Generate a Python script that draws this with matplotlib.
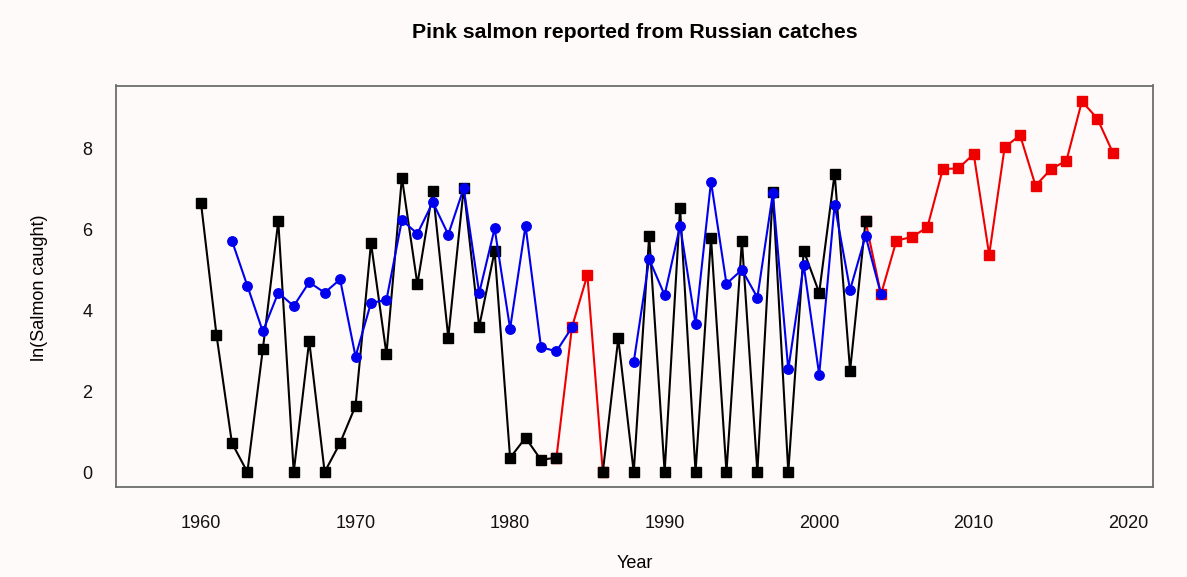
import numpy as np
import matplotlib

matplotlib.use("Agg")
import matplotlib.pyplot as plt

# ln(catch) per year, 1960-2019 (full reported series, drawn red where it stands alone)
years = np.arange(1960, 2020)
log_catch = [
    6.66, 3.40, 0.72, 0.0, 3.04, 6.21, 0.0, 3.25, 0.0, 0.72,   # 1960s
    1.64, 5.67, 2.92, 7.29, 4.65, 6.97, 3.33, 7.03, 3.60, 5.47,  # 1970s
    0.35, 0.85, 0.30, 0.36, 3.58, 4.88, 0.0, 3.31, 0.0, 5.85,    # 1980s
    0.0, 6.53, 0.0, 5.80, 0.0, 5.73, 0.0, 6.93, 0.0, 5.48,       # 1990s
    4.44, 7.39, 2.51, 6.21, 4.40, 5.73, 5.82, 6.06, 7.50, 7.52,  # 2000s
    7.87, 5.38, 8.04, 8.34, 7.09, 7.50, 7.71, 9.18, 8.75, 7.91,  # 2010s
]
# years that only appear in the red series
red_only_years = [1984, 1985] + list(range(2004, 2020))

# second series (blue circles), 1962-2004, gap 1985-1987
blue_years = np.arange(1962, 2005)
blue_vals = [
    5.73, 4.61, 3.48, 4.44, 4.11, 4.70, 4.44, 4.77,              # 1962-69
    2.86, 4.19, 4.26, 6.24, 5.90, 6.68, 5.88, 7.03, 4.43, 6.03,  # 1970s
    3.55, 6.10, 3.09, 2.99, 3.58, np.nan, np.nan, np.nan, 2.72, 5.27,  # 1980s
    4.38, 6.10, 3.67, 7.19, 4.66, 5.01, 4.32, 6.90, 2.54, 5.12,  # 1990s
    2.41, 6.62, 4.51, 5.85, 4.40,                                # 2000-04
]

log_catch = np.array(log_catch)
red_only = np.isin(years, red_only_years)
black_vals = np.where(red_only, np.nan, log_catch)
# red only where it is not hidden under the black line
red_show = red_only | np.isin(years - 1, red_only_years) | np.isin(years + 1, red_only_years)
red_vals = np.where(red_show, log_catch, np.nan)

BG = "#fefaf9"
fig = plt.figure(figsize=(11.87, 5.77), dpi=100, facecolor=BG)
ax = fig.add_axes([116 / 1187, 1 - 487 / 577, (1153 - 116) / 1187, (487 - 85.5) / 577])
ax.set_facecolor(BG)

ax.plot(years, red_vals, color="#ee0000", lw=1.5, marker="s", ms=6.8, zorder=2)
ax.plot(years, black_vals, color="black", lw=1.5, marker="s", ms=6.8, zorder=3)
ax.plot(blue_years, blue_vals, color="#0000ee", lw=1.5, marker="o", ms=6.8, zorder=4)

ax.set_xlim(1954.5, 2021.6)
ax.set_ylim(-0.37, 9.57)
ax.set_xticks([1960, 1970, 1980, 1990, 2000, 2010, 2020])
ax.set_yticks([0, 2, 4, 6, 8])
ax.tick_params(axis="both", length=0, labelsize=13, colors="#111111")
ax.tick_params(axis="x", pad=20)
ax.tick_params(axis="y", pad=17)
for lbl in ax.get_xticklabels() + ax.get_yticklabels():
    lbl.set_family("Liberation Sans")
for sp in ax.spines.values():
    sp.set_color("#6e6e6e")
    sp.set_linewidth(1.3)

fig.text(0.5345, 1 - 33 / 577, "Pink salmon reported from Russian catches",
         ha="center", va="center", fontsize=15.3, fontweight="bold", family="Liberation Sans")
fig.text(0.5345, 1 - 564 / 577, "Year", ha="center", va="center",
         fontsize=13, family="Liberation Sans")
fig.text(40 / 1187, 1 - 288 / 577, "ln(Salmon caught)", ha="center", va="center",
         rotation=90, fontsize=13, family="Liberation Sans")

fig.savefig("out.png", dpi=100, facecolor=BG)
